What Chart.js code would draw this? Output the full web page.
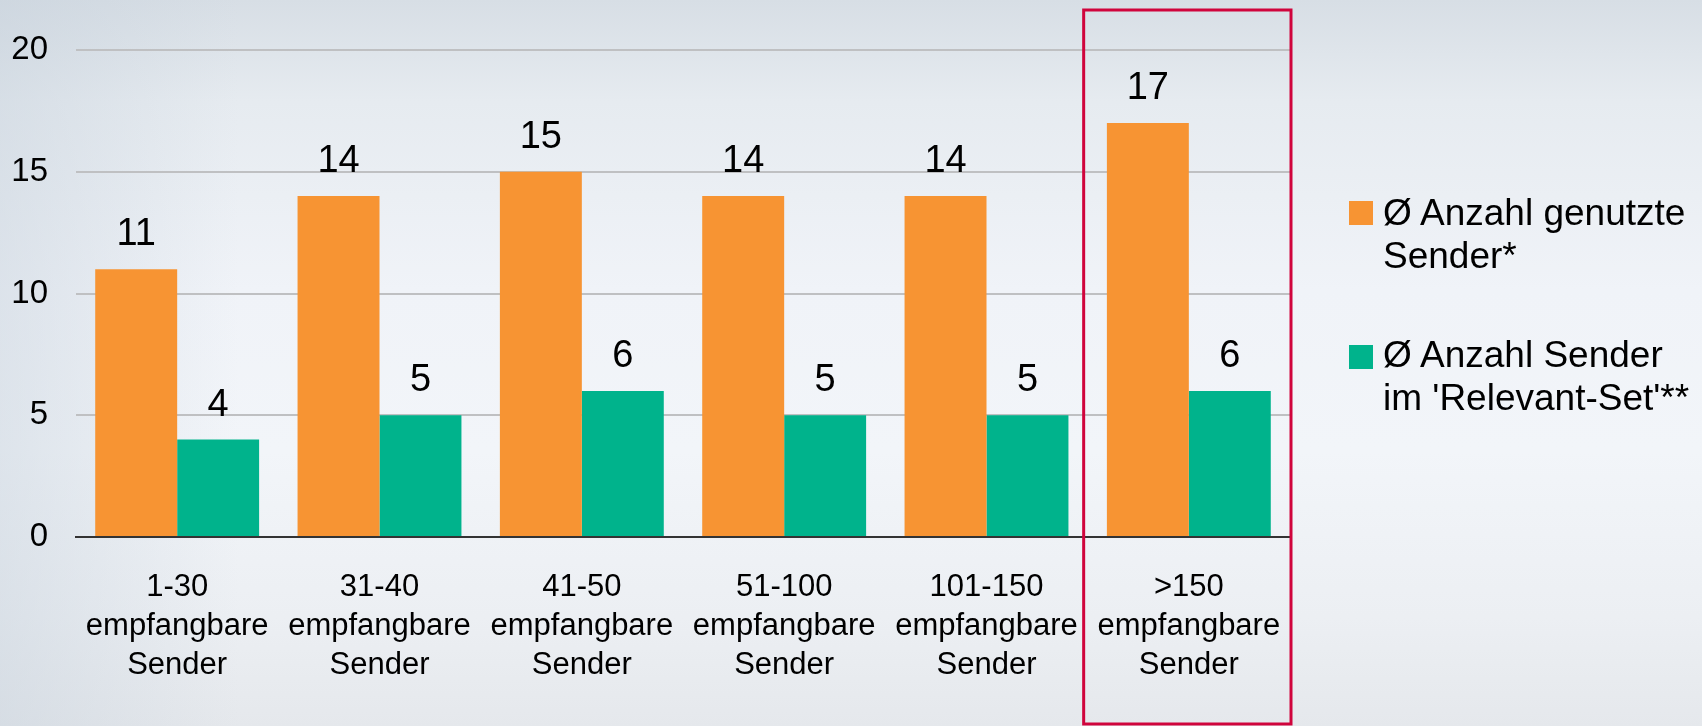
<!DOCTYPE html>
<html>
<head>
<meta charset="utf-8">
<script src="https://cdn.jsdelivr.net/npm/chart.js"></script>
<style>
  html, body { margin: 0; padding: 0; }
  body {
    width: 1702px; height: 726px; overflow: hidden; position: relative;
    background:
      linear-gradient(to right, rgba(196,207,218,0.45) 0%, rgba(196,207,218,0) 14%),
      linear-gradient(to bottom, #d7dee5 0%, #e6ebf0 14%, #f0f3f8 40%, #f2f5f9 62%, #eceff3 85%, #e5e8ec 100%);
    font-family: "Liberation Sans", Arial, sans-serif;
  }
  #wrap { position: absolute; left: 0; top: 0; width: 1702px; height: 726px; }
  .legend-item { position: absolute; left: 1349px; color: #000; font-size: 37px; line-height: 43px; }
  .legend-item .box { position: absolute; left: 0; width: 24px; height: 24px; }
  .legend-item .txt { position: absolute; left: 34px; white-space: nowrap; }
</style>
</head>
<body>
<div id="wrap"><canvas id="chart" width="1702" height="726"></canvas></div>
<div class="legend-item" style="top:191px"><div class="box" style="top:10px;background:#f79433"></div><div class="txt">Ø Anzahl genutzte<br>Sender*</div></div>
<div class="legend-item" style="top:333px"><div class="box" style="top:12px;background:#00b38c"></div><div class="txt">Ø Anzahl Sender<br>im 'Relevant-Set'**</div></div>
<script>
const categories = [
  ["1-30", "empfangbare", "Sender"],
  ["31-40", "empfangbare", "Sender"],
  ["41-50", "empfangbare", "Sender"],
  ["51-100", "empfangbare", "Sender"],
  ["101-150", "empfangbare", "Sender"],
  [">150", "empfangbare", "Sender"]
];
const usedStations = [11, 14, 15, 14, 14, 17];
const relevantSet = [4, 5, 6, 5, 5, 6];
const seriesNames = ["Ø Anzahl genutzte Sender*", "Ø Anzahl Sender im 'Relevant-Set'**"];
const yTicks = [0, 5, 10, 15, 20];
const highlightIndex = 5;

const FONT = "'Liberation Sans', Arial, sans-serif";

// value above each bar
const valueLabels = {
  id: 'valueLabels',
  afterDatasetsDraw(chart) {
    const ctx = chart.ctx;
    ctx.save();
    ctx.font = "38px " + FONT;
    ctx.fillStyle = '#000';
    ctx.textAlign = 'center';
    ctx.textBaseline = 'alphabetic';
    chart.data.datasets.forEach((ds, i) => {
      chart.getDatasetMeta(i).data.forEach((bar, j) => {
        ctx.fillText(ds.data[j], bar.x, bar.y - 24);
      });
    });
    ctx.restore();
  }
};

// red frame round the last group
const highlightBox = {
  id: 'highlightBox',
  afterDraw(chart) {
    const x = chart.scales.x;
    const c = x.getPixelForValue(highlightIndex);
    const half = (x.getPixelForValue(1) - x.getPixelForValue(0)) / 2;
    const ctx = chart.ctx;
    ctx.save();
    ctx.strokeStyle = '#d0043c';
    ctx.lineWidth = 3;
    ctx.strokeRect(c - half - 4, 10, half * 2 + 5, chart.height - 12);
    ctx.restore();
  }
};

new Chart(document.getElementById('chart'), {
  type: 'bar',
  data: {
    labels: categories,
    datasets: [
      { label: seriesNames[0], data: usedStations, backgroundColor: '#f79433' },
      { label: seriesNames[1], data: relevantSet, backgroundColor: '#00b38c' }
    ]
  },
  options: {
    responsive: false,
    animation: false,
    layout: { padding: { top: 50, right: 412, left: 0, bottom: 0 } },
    datasets: { bar: { barPercentage: 1, categoryPercentage: 0.81 } },
    plugins: { legend: { display: false }, tooltip: { enabled: false } },
    scales: {
      x: {
        grid: { display: false },
        border: { display: true, color: '#333', width: 2 },
        ticks: { color: '#000', padding: 23, maxRotation: 0, font: { family: FONT, size: 31, lineHeight: 1.26 } },
        afterFit(scale) { scale.height = 189; }
      },
      y: {
        min: 0, max: 20,
        afterBuildTicks(scale) { scale.ticks = yTicks.map(v => ({ value: v })); },
        grid: {
          color: ctx => ctx.tick && ctx.tick.value === 0 ? 'rgba(0,0,0,0)' : '#bfc0c2',
          lineWidth: 2, drawTicks: false
        },
        border: { display: false },
        ticks: { color: '#000', padding: 28, font: { family: FONT, size: 33 } },
        afterFit(scale) { scale.width = 76; }
      }
    }
  },
  plugins: [valueLabels, highlightBox]
});
</script>
</body>
</html>
